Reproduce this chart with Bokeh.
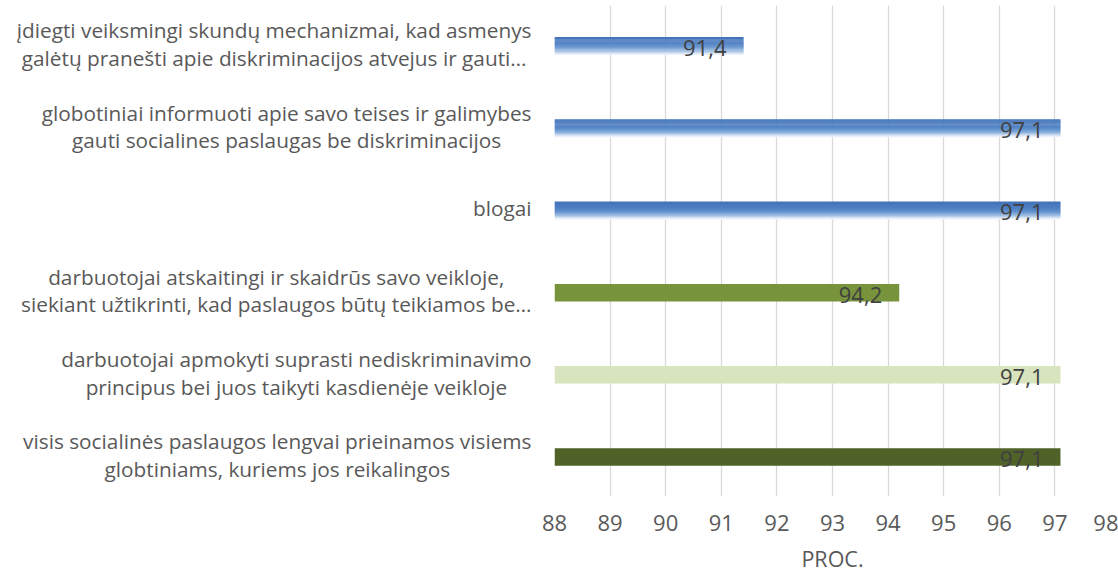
from bokeh.plotting import figure
from bokeh.layouts import row
from bokeh.models import Range1d, FixedTicker
from bokeh.core.properties import value
from bokeh.embed import file_html
from bokeh.resources import INLINE

# ---- data ----
categories = [
    "įdiegti veiksmingi skundų mechanizmai, kad asmenys\ngalėtų pranešti apie diskriminacijos atvejus ir gauti…",
    "globotiniai informuoti apie savo teises ir galimybes\ngauti socialines paslaugas be diskriminacijos",
    "blogai",
    "darbuotojai atskaitingi ir skaidrūs savo veikloje,\nsiekiant užtikrinti, kad paslaugos būtų teikiamos be…",
    "darbuotojai apmokyti suprasti nediskriminavimo\nprincipus bei juos taikyti kasdienėje veikloje",
    "visis socialinės paslaugos lengvai prieinamos visiems\nglobtiniams, kuriems jos reikalingos",
]
values = [91.4, 97.1, 97.1, 94.2, 97.1, 97.1]
bar_fills = ["gradient", "gradient", "gradient", "#77933c", "#d7e4bd", "#4f6228"]
x_ticks = [88, 89, 90, 91, 92, 93, 94, 95, 96, 97, 98]
tick_labels = ["88", "89", "90", "91", "92", "93", "94", "95", "96", "97", "98"]
x_title = "PROC."

# ---- style ----
blue_stops = ["#4473bb", "#4575bc", "#4677bd", "#4879be", "#4a7bbf", "#4c7dc1",
              "#4f80c2", "#5384c5", "#598ac8", "#6190cc", "#6c99d0", "#7aa3d6",
              "#8bb0dc", "#a0bfe3", "#b8cfea", "#d2e0f2", "#e9f0f9"]
FONT = "Open Sans"
TXT = "#595959"
bar_h = 0.213
H = 575
TOP, BOTTOM = 5, 79
LEFT_W = 534
MAIN_W = 584

n = len(categories)
pos = [n - 1 - i for i in range(n)]
x_start, x_end = x_ticks[0], x_ticks[-1]
y_range = Range1d(-0.48, 5.493)

# ---- main plot ----
p = figure(width=MAIN_W, height=H, output_backend="svg", toolbar_location=None,
           x_range=Range1d(x_start, x_end), y_range=y_range,
           min_border_left=20, min_border_right=8, min_border_top=TOP,
           min_border_bottom=BOTTOM)
p.outline_line_color = None
p.background_fill_color = "white"
p.border_fill_color = "white"
p.yaxis.visible = False
p.ygrid.visible = False
p.xgrid.ticker = FixedTicker(ticks=x_ticks)
p.xgrid.grid_line_color = "#d9d9d9"
p.xgrid.grid_line_width = 1.3

ax = p.xaxis[0]
ax.ticker = FixedTicker(ticks=x_ticks)
ax.major_label_overrides = {t: l for t, l in zip(x_ticks, tick_labels)}
ax.axis_line_color = None
ax.major_tick_line_color = None
ax.minor_tick_line_color = None
ax.major_tick_out = 0
ax.major_tick_in = 0
ax.major_label_standoff = 18
ax.major_label_text_font = FONT
ax.major_label_text_font_size = "22px"
ax.major_label_text_color = TXT
ax.axis_label = x_title
ax.axis_label_text_font = FONT
ax.axis_label_text_font_size = "21.5px"
ax.axis_label_text_font_style = "normal"
ax.axis_label_text_color = TXT
ax.axis_label_standoff = 10

# solid bars
solid = [i for i in range(n) if bar_fills[i] != "gradient"]
p.hbar(y=[pos[i] for i in solid], left=x_start, right=[values[i] for i in solid],
       height=bar_h, fill_color=[bar_fills[i] for i in solid], line_color=None)

# gradient bars (thin strips)
grad = [i for i in range(n) if bar_fills[i] == "gradient"]
K = len(blue_stops)
for k, c in enumerate(blue_stops):
    off = bar_h / 2 - (k + 0.5) * bar_h / K
    p.hbar(y=[pos[i] + off for i in grad], left=x_start,
           right=[values[i] for i in grad], height=bar_h / K * 1.4,
           fill_color=c, line_color=None)

# data labels
p.text(x=values, y=pos, text=[f"{v:.1f}".replace(".", ",") for v in values],
       text_align="right", text_baseline="middle", x_offset=-17, y_offset=2,
       text_font=value(FONT), text_font_size="22px", text_color="#404040")

# ---- category label panel ----
lp = figure(width=LEFT_W, height=H, output_backend="svg", toolbar_location=None,
            x_range=Range1d(-LEFT_W, 0), y_range=y_range,
            min_border_left=0, min_border_right=0, min_border_top=TOP,
            min_border_bottom=BOTTOM)
lp.xaxis.visible = False
lp.yaxis.visible = False
lp.grid.visible = False
lp.outline_line_color = None
lp.background_fill_color = "white"
lp.border_fill_color = "white"
lp.text(x=[0] * n, y=pos, text=categories, x_offset=-3, y_offset=-2,
        anchor="center_right", text_align="center", text_baseline="middle",
        text_font=value(FONT), text_font_size="20.8px", text_color=TXT,
        text_line_height=0.98)

layout = row(lp, p)
open("out.html", "w").write(file_html(layout, INLINE))
